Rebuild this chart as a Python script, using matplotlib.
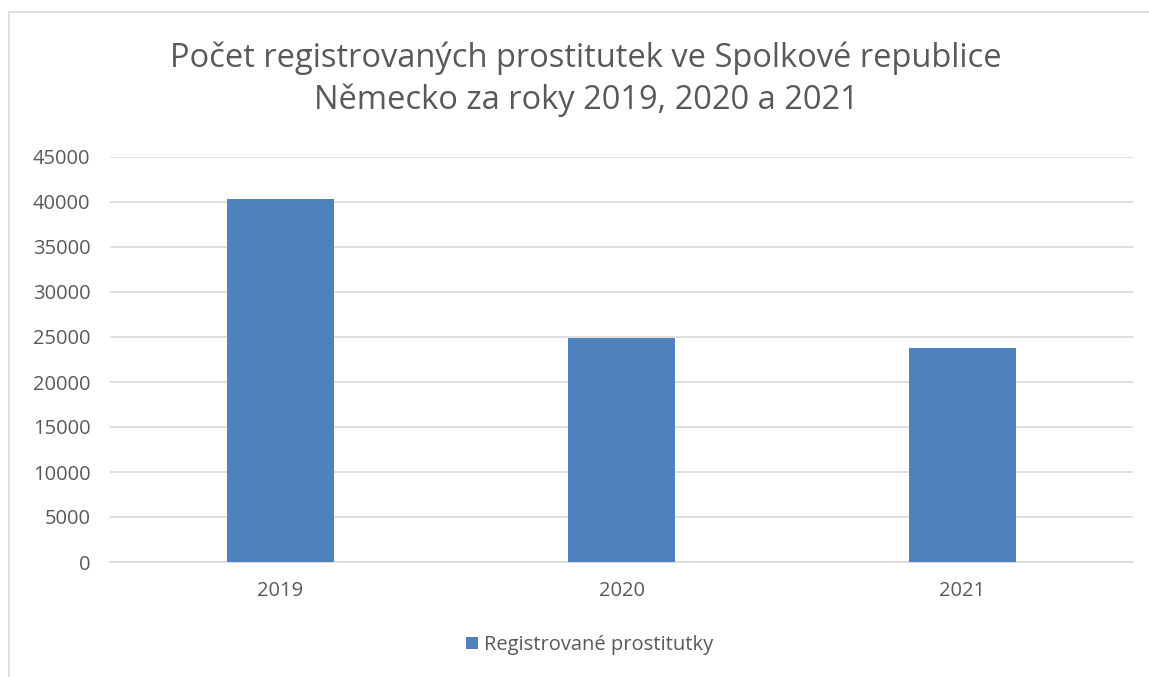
import matplotlib
matplotlib.use("Agg")
import matplotlib.pyplot as plt
from matplotlib.patches import Rectangle

# Data
years = ["2019", "2020", "2021"]
counts = [40369, 24940, 23743]
yticks = list(range(0, 45001, 5000))
series_name = "Registrované prostitutky"
title = "Počet registrovaných prostitutek ve Spolkové republice\nNěmecko za roky 2019, 2020 a 2021"

TXT = "#595959"
BAR = "#4f81bd"
GRID = "#d9d9d9"
plt.rcParams["font.family"] = ["Open Sans", "DejaVu Sans"]

W, H = 1149, 677
fig = plt.figure(figsize=(W / 100, H / 100), dpi=100)

# outer chart border (clipped by the image edges)
fig.patches.append(Rectangle((9 / W, -0.1), 1.2, 1 - 12 / H + 0.1, transform=fig.transFigure,
                             fill=False, edgecolor=GRID, linewidth=1.2))

ax = fig.add_axes([110 / W, 1 - 562 / H, (1133 - 110) / W, (562 - 157) / H])
x = range(len(years))
ax.bar(x, counts, width=0.314, color=BAR, label=series_name, zorder=3)
ax.set_xlim(-0.5, 2.5)
ax.set_ylim(0, 45000)
ax.set_yticks(yticks)
ax.set_xticks(list(x))
ax.set_xticklabels(years)
ax.yaxis.grid(True, color=GRID, linewidth=1.2, zorder=0)
ax.tick_params(axis="both", length=0, labelsize=14.5, colors=TXT)
ax.tick_params(axis="x", pad=14)
ax.tick_params(axis="y", pad=14)
for s in ["top", "right", "left"]:
    ax.spines[s].set_visible(False)
ax.spines["bottom"].set_color(GRID)
ax.spines["bottom"].set_linewidth(1.2)

fig.text(586 / W, 1 - 79 / H, title, ha="center", va="center", fontsize=23.5,
         color=TXT, linespacing=1.35)

fig.legend(loc="center", bbox_to_anchor=(590 / W, 1 - 645 / H), frameon=False,
           fontsize=14.5, labelcolor=TXT, handlelength=0.6, handleheight=0.6, handletextpad=0.3)

fig.savefig("out.png", dpi=100, facecolor="white")
